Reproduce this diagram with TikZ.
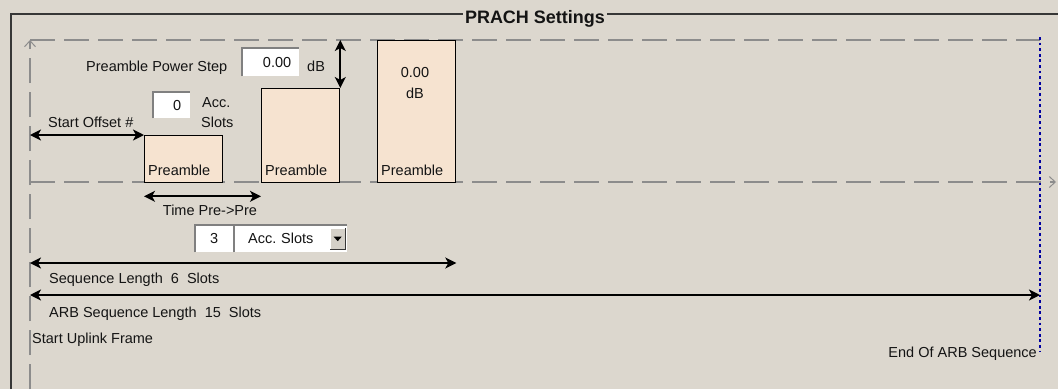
\documentclass[tikz,border=0pt]{standalone}
\usepackage{fontspec}
\setmainfont{Liberation Sans}
\usetikzlibrary{positioning,arrows.meta}

\definecolor{panelbg}{RGB}{220,215,206}
\definecolor{preamblefill}{RGB}{246,227,208}
\definecolor{guidegray}{RGB}{140,140,140}
\definecolor{framegray}{RGB}{55,55,55}
\definecolor{endblue}{RGB}{0,0,160}
\definecolor{sunkengray}{RGB}{128,128,128}
\definecolor{buttongray}{RGB}{212,208,200}
\definecolor{textdark}{RGB}{20,20,20}

\begin{document}
\begin{tikzpicture}[
        x=1pt, y=-1pt,
        every node/.style={inner sep=0pt, text=textdark, font=\fontsize{14.5}{18}\selectfont},
        caption/.style={anchor=base west},
        preamble/.style={rectangle, draw=black, line width=1.3pt, fill=preamblefill,
                         anchor=north west, minimum width=78pt},
        field/.style={rectangle, fill=white, anchor=north west, align=right},
        guide/.style={draw=guidegray, line width=1.6pt, dash pattern=on 25pt off 9pt},
        dimarrow/.style={draw=black, line width=1.7pt,
                         {Stealth[length=11pt,width=11pt,inset=3pt]}-{Stealth[length=11pt,width=11pt,inset=3pt]}},
        sunkenedge/.style={draw=sunkengray, line width=2pt},
        opentip/.style={-{Straight Barb[length=6pt,width=11pt,line width=1pt]}}
    ]
    \fill[panelbg] (0,0) rectangle (1058,389);
    \useasboundingbox (0,0) rectangle (1058,389);

    % group box and its title
    \draw[framegray, line width=1.8pt] (11,389) |- (1058,14);
    \node[anchor=base, fill=panelbg, inner xsep=2pt, font=\fontsize{18}{20}\selectfont\bfseries] (title) at (535,23) {PRACH Settings};

    % time axis and guides
    \coordinate (guidetop) at (30,40);
    \coordinate (guidebottom) at (30,389);
    \coordinate (origin) at (30,182);
    \coordinate (timeend) at (1056,182);
    \coordinate (endtop) at (1040,37);
    \coordinate (endbottom) at (1040,352);
    \draw[guide, opentip] (guidebottom) -- (guidetop);
    \draw[guide] (guidetop) -- (endtop |- guidetop);
    \draw[guide, opentip] (origin) -- (timeend);
    \draw[endblue, line width=2.8pt, dash pattern=on 2.8pt off 2.8pt] (endtop) -- (endbottom);

    % preambles
    \node[preamble, minimum height=47pt] (pre1) at (144,135) {};
    \node[preamble, minimum height=94pt] (pre2) at (261,88) {};
    \node[preamble, minimum height=142pt] (pre3) at (377,40) {};
    \foreach \p in {1,2,3}
        \node[caption] (pre\p-label) at ([shift={(4pt,8pt)}]pre\p.south west) {Preamble};
    \node[anchor=base] (pre3-level) at (415,77) {0.00};
    \node[anchor=base] (pre3-unit) at (415,98) {dB};

    % power step
    \node[field, minimum height=28pt, text width=41pt, inner xsep=8pt] (stepfield) at (242,48) {0.00};
    \draw[sunkenedge] (stepfield.south west) |- (stepfield.north east);
    \node[caption] (steplabel) at (86,71) {Preamble Power Step};
    \node[caption] (stepunit) at (307,71) {dB};
    \coordinate (steptop) at (pre2.north east |- guidetop);
    \draw[dimarrow] (steptop) -- (pre2.north east);

    % start offset
    \node[field, minimum height=26pt, text width=19pt, inner xsep=9pt] (offsetfield) at (153,92) {0};
    \draw[sunkenedge] (offsetfield.south west) |- (offsetfield.north east);
    \node[caption] (offsetunit) at (202,107) {Acc.};
    \node[caption] (offsetunit2) at (201,127) {Slots};
    \node[caption] (offsetlabel) at (48,127) {Start Offset \#};
    \coordinate (offsetstart) at (origin |- pre1.north);
    \draw[dimarrow] (offsetstart) -- (pre1.north west);

    % time between preambles
    \coordinate (periodstart) at ([yshift=-13pt]pre1.south west);
    \coordinate (periodend) at (periodstart -| pre2.west);
    \draw[dimarrow] (periodstart) -- (periodend);
    \node[anchor=base] (periodlabel) at (210,215) {Time Pre->Pre};
    \node[field, minimum height=27pt, text width=20pt, inner xsep=9pt, align=center] (periodfield) at (195,225) {3};
    \draw[sunkenedge] (periodfield.south west) |- (periodfield.north east);
    \node[field, minimum height=27pt, text width=85pt, inner xsep=14pt, align=left] (periodunit) at (234,225) {Acc.\ Slots};
    \draw[sunkenedge] (periodunit.south west) |- (periodunit.north east);
    \node[rectangle, fill=buttongray, anchor=north west, minimum width=15pt, minimum height=21pt] (periodbutton) at (330,228) {};
    \draw[white, line width=1pt] (periodbutton.south west) |- (periodbutton.north east);
    \draw[framegray, line width=1.2pt] (periodbutton.south west) -| (periodbutton.north east);
    \fill[black] ([shift={(-4pt,2pt)}]periodbutton.center) -- ([shift={(4pt,2pt)}]periodbutton.center)
        -- ([shift={(0pt,-2.5pt)}]periodbutton.center) -- cycle;

    % sequence lengths
    \coordinate (seqstart) at (30,263);
    \coordinate (seqend) at (pre3.east |- seqstart);
    \draw[dimarrow] (seqstart) -- (seqend);
    \node[caption] (seqlabel) at (49,283) {Sequence Length\ \ 6\ \ Slots};
    \coordinate (arbstart) at (30,295);
    \coordinate (arbend) at (endtop |- arbstart);
    \draw[dimarrow] (arbstart) -- (arbend);
    \node[caption] (arblabel) at (49,317) {ARB Sequence Length\ \ 15\ \ Slots};
    \node[caption] (uplinklabel) at (32,343) {Start Uplink Frame};
    \node[anchor=base east] (endlabel) at (1037,357) {End Of ARB Sequence};
\end{tikzpicture}
\end{document}
